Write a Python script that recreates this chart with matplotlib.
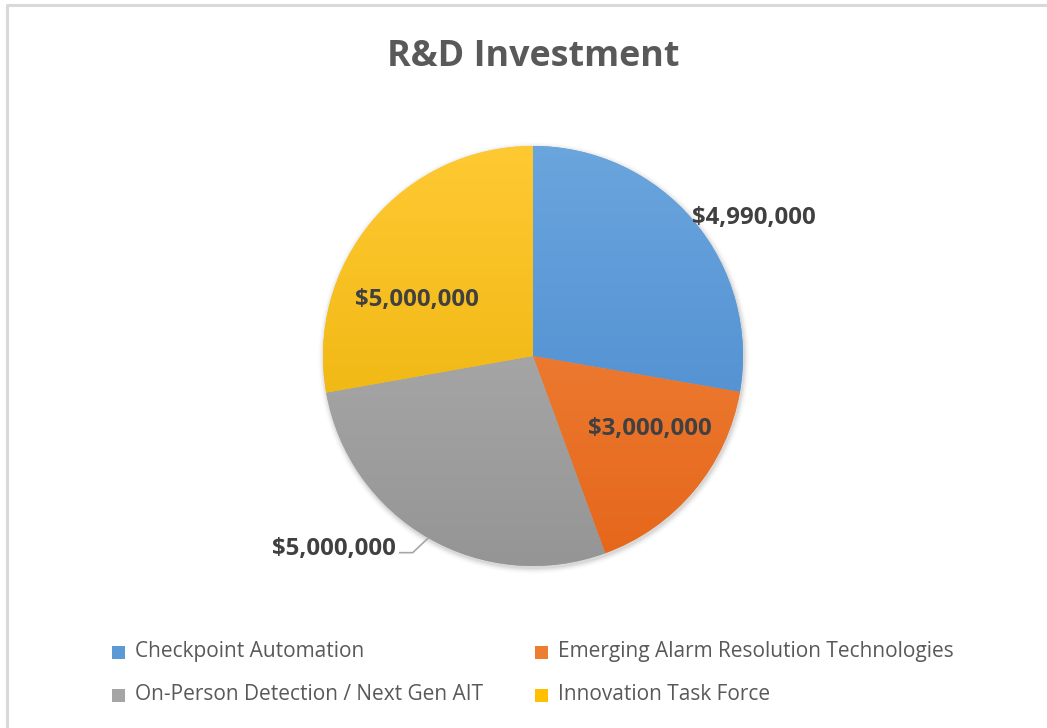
import numpy as np
import matplotlib
matplotlib.use("Agg")
import matplotlib.pyplot as plt
from matplotlib.colors import LinearSegmentedColormap
from matplotlib.patches import Rectangle

plt.rcParams['font.family'] = ['Open Sans', 'DejaVu Sans']

# ---- data ----
categories = ["Checkpoint Automation", "Emerging Alarm Resolution Technologies",
              "On-Person Detection / Next Gen AIT", "Innovation Task Force"]
values = [4990000, 3000000, 5000000, 5000000]
value_labels = ["$4,990,000", "$3,000,000", "$5,000,000", "$5,000,000"]
title = "R&D Investment"

# ---- style ----
top_colors = ["#6aa5dd", "#f28c45", "#b5b5b5", "#ffc933"]
bot_colors = ["#4686cc", "#e5661a", "#959595", "#e8ae00"]
legend_colors = ["#5b9bd5", "#ed7d31", "#a5a5a5", "#ffc000"]
# label placement: (radius factor, angle offset deg) relative to wedge mid-angle
label_place = [(1.25, -7.5), (0.65, 9.0), (1.31, -16.5), (0.62, 13.0)]
leader = [False, False, True, False]

W, H = 1047, 728
fig = plt.figure(figsize=(W / 100, H / 100), dpi=100)
ax = fig.add_axes([0, 0, 1, 1])
ax.set_xlim(0, W)
ax.set_ylim(0, H)
ax.set_aspect('equal')
ax.axis('off')

# chart border
ax.plot([7, 7, W + 5], [-5, H - 5, H - 5], color="#d9d9d9", lw=2.2, solid_capstyle='butt')

cx, cy, R = 533, H - 356, 210

# soft shadow
for i, a in enumerate(np.linspace(0.05, 0.01, 5)):
    circ = plt.Circle((cx + 1, cy - 2), R + 1 + i * 1.2, color='black', alpha=a, lw=0, zorder=1)
    ax.add_patch(circ)

wedges, _ = ax.pie(values, center=(cx, cy), radius=R, startangle=90, counterclock=False,
                   colors=legend_colors, wedgeprops=dict(linewidth=0, zorder=2))
ax.set_xlim(0, W)
ax.set_ylim(0, H)

grad = np.linspace(1, 0, 256).reshape(-1, 1)
for w, tc, bc in zip(wedges, top_colors, bot_colors):
    cmap = LinearSegmentedColormap.from_list("g", [bc, tc])
    im = ax.imshow(grad, cmap=cmap, vmin=0, vmax=1, aspect='auto',
                   extent=[cx - R, cx + R, cy - R, cy + R], zorder=3, interpolation='bilinear')
    im.set_clip_path(w)

for w, lab, (rf, off), ld in zip(wedges, value_labels, label_place, leader):
    mid = np.deg2rad((w.theta1 + w.theta2) / 2)
    ang = mid + np.deg2rad(off)
    tx = cx + R * rf * np.cos(ang)
    ty = cy + R * rf * np.sin(ang)
    ax.text(tx, ty - 3, lab, ha='center', va='center', fontsize=17.3, fontweight='bold',
            color='#404040', zorder=5)
    if ld:
        ex = cx + R * np.cos(mid)
        ey = cy + R * np.sin(mid)
        x0 = tx + 66
        ax.plot([x0, x0 + 13, ex], [ty - 7, ty - 7, ey], color='#a6a6a6', lw=1.2, zorder=5)

ax.text(cx, H - 57, title, ha='center', va='center', fontsize=25.8, fontweight='bold',
        color='#595959')

# legend
leg_x = [118, 541, 118, 541]
leg_y = [H - 652, H - 652, H - 695, H - 695]
for c, name, lx, ly in zip(legend_colors, categories, leg_x, leg_y):
    ax.add_patch(Rectangle((lx - 6.5, ly - 6.5), 13, 13, color=c, lw=0))
    ax.text(lx + 17, ly, name, ha='left', va='center', fontsize=15, color='#595959')

fig.savefig("out.png", dpi=100, facecolor='white')
